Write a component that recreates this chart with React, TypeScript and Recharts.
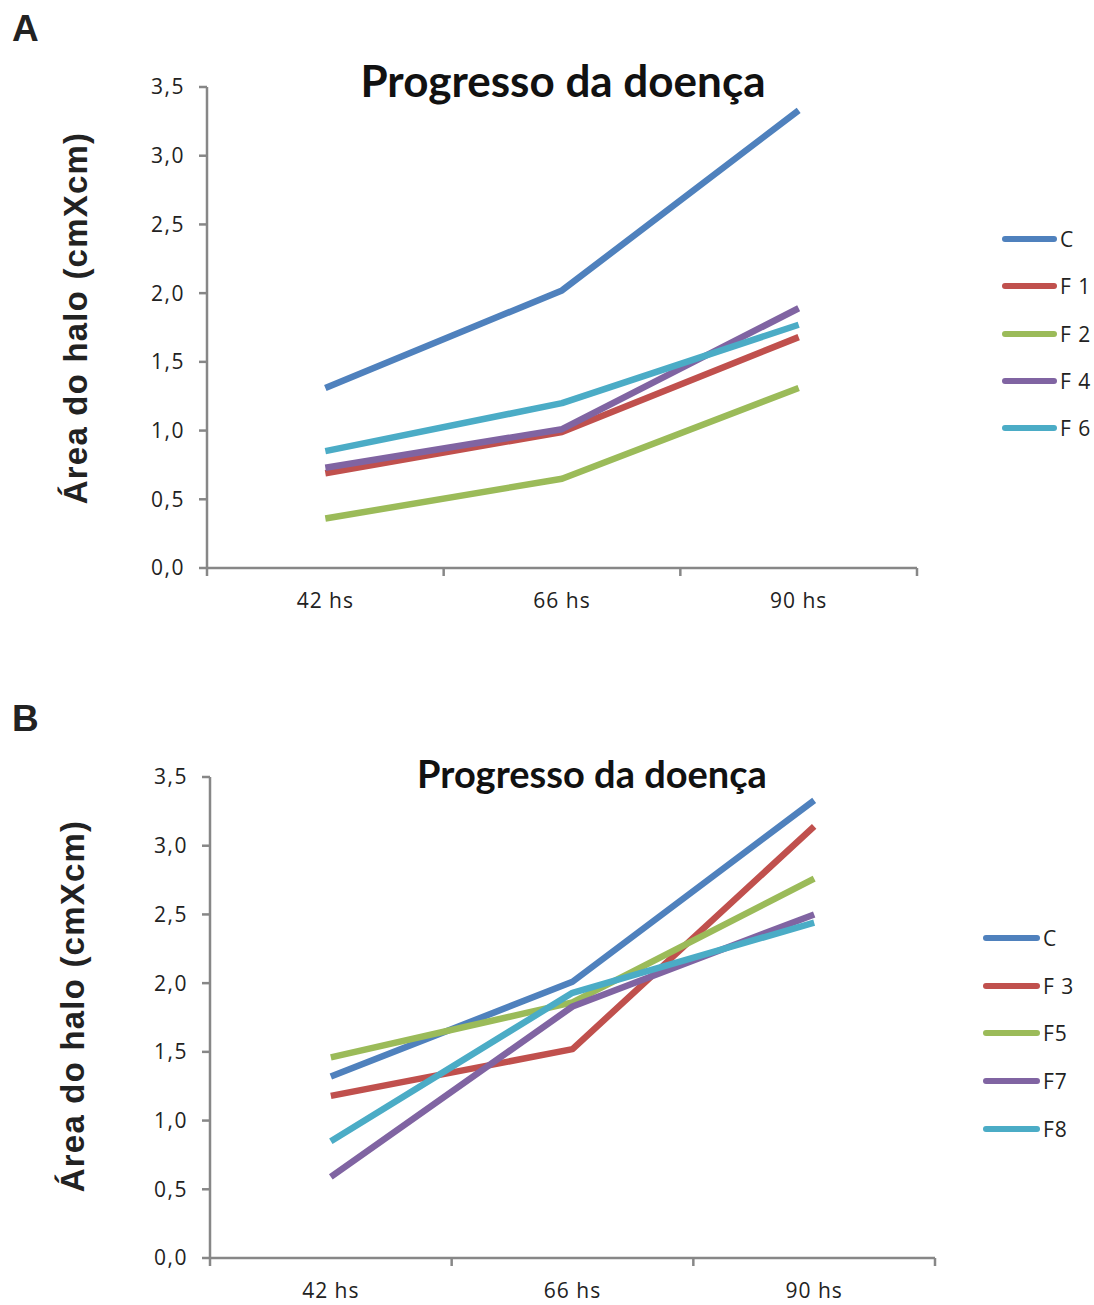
import { LineChart, Line, XAxis, YAxis } from 'recharts';

const categories = ['42 hs', '66 hs', '90 hs'];
const yTicks = [0, 0.5, 1, 1.5, 2, 2.5, 3, 3.5];

// panel A
const namesA = ['C', 'F 1', 'F 2', 'F 4', 'F 6'];
const cA = [1.31, 2.02, 3.33];
const f1 = [0.69, 0.99, 1.68];
const f2 = [0.36, 0.65, 1.31];
const f4 = [0.73, 1.01, 1.89];
const f6 = [0.85, 1.2, 1.77];

// panel B
const namesB = ['C', 'F 3', 'F5', 'F7', 'F8'];
const cB = [1.32, 2.01, 3.33];
const f3 = [1.18, 1.52, 3.14];
const f5 = [1.46, 1.86, 2.76];
const f7 = [0.59, 1.83, 2.5];
const f8 = [0.85, 1.93, 2.44];

const colors = ['#4F81BD', '#C0504D', '#9BBB59', '#8064A2', '#4BACC6'];

const AXIS = '#878787';
const TICK_SIZE = 8;
const TICK_MARGIN = 17;
const TICK_FONT = '"Open Sans", sans-serif';

function buildRows(values: number[][]) {
	return categories.map((cat, i) => {
		const row: Record<string, string | number> = { cat };
		values.forEach((v, s) => {
			row['s' + s] = v[i];
		});
		return row;
	});
}

const rowsA = buildRows([cA, f1, f2, f4, f6]);
const rowsB = buildRows([cB, f3, f5, f7, f8]);

interface PanelProps {
	top: number;
	height: number;
	margin: { top: number; right: number; bottom: number; left: number };
	rows: Record<string, string | number>[];
	names: string[];
	letter: string;
	title: { cx: number; y: number; size: number };
	ylabel: { cx: number; cy: number };
	legend: { x: number; y: number; gap: number; lineW: number };
}

function Panel({ top, height, margin, rows, names, letter, title, ylabel, legend }: PanelProps) {
	const width = 1094;
	const yAxisW = 60;
	const plotW = width - margin.left - yAxisW - margin.right;
	const bw = plotW / categories.length;

	// label at band centre, tick marks at band edges (Excel style)
	const XTick = (props: any) => {
		const { x, y, payload, index } = props;
		const axisY = y - TICK_SIZE - TICK_MARGIN;
		return (
			<g>
				<line x1={x - bw / 2} x2={x - bw / 2} y1={axisY} y2={axisY + TICK_SIZE} stroke={AXIS} strokeWidth={2.5} />
				{index === categories.length - 1 && (
					<line x1={x + bw / 2} x2={x + bw / 2} y1={axisY} y2={axisY + TICK_SIZE} stroke={AXIS} strokeWidth={2.5} />
				)}
				<text x={x} y={y} dy="0.71em" textAnchor="middle" fill="#222" fontSize={21} letterSpacing={1} fontFamily={TICK_FONT}>
					{payload.value}
				</text>
			</g>
		);
	};

	return (
		<div style={{ position: 'absolute', left: 0, top, width, height }}>
			<div style={{ position: 'absolute', left: 12, top: 10, fontFamily: '"Liberation Sans", Arial, sans-serif', fontWeight: 'bold', fontSize: 37, color: '#222', lineHeight: 1 }}>
				{letter}
			</div>
			<LineChart width={width} height={height} data={rows} margin={margin}>
				<XAxis
					dataKey="cat"
					scale="band"
					height={30}
					tickSize={TICK_SIZE}
					tickMargin={TICK_MARGIN}
					tickLine={false}
					axisLine={{ stroke: AXIS, strokeWidth: 2.5 }}
					tick={<XTick />}
				/>
				<YAxis
					width={yAxisW}
					domain={[0, 3.5]}
					ticks={yTicks}
					interval={0}
					tickSize={TICK_SIZE}
					tickMargin={14}
					axisLine={{ stroke: AXIS, strokeWidth: 2.5 }}
					tickLine={{ stroke: AXIS, strokeWidth: 2.5 }}
					tick={{ fill: '#222', fontSize: 21, fontFamily: TICK_FONT, letterSpacing: 1.5 }}
					tickFormatter={(v: number) => v.toFixed(1).replace('.', ',')}
				/>
				{names.map((n, i) => (
					<Line
						key={n}
						dataKey={'s' + i}
						name={n}
						stroke={colors[i]}
						strokeWidth={6.5}
						strokeLinejoin="round"
						dot={false}
						activeDot={false}
						isAnimationActive={false}
					/>
				))}
			</LineChart>
			<div
				style={{
					position: 'absolute',
					left: title.cx - 300,
					width: 600,
					top: title.y,
					textAlign: 'center',
					fontFamily: 'Lato, sans-serif',
					fontWeight: 'bold',
					fontSize: title.size,
					color: '#111',
					lineHeight: 1,
				}}
			>
				Progresso da doença
			</div>
			<div
				style={{
					position: 'absolute',
					left: ylabel.cx - 250,
					top: ylabel.cy - 20,
					width: 500,
					height: 40,
					lineHeight: '40px',
					textAlign: 'center',
					transform: 'rotate(-90deg)',
					fontFamily: '"Liberation Sans", Arial, sans-serif',
					fontWeight: 'bold',
					fontSize: 33,
					letterSpacing: 1.2,
					color: '#222',
				}}
			>
				Área do halo (cmXcm)
			</div>
			{names.map((n, i) => (
				<div key={n} style={{ position: 'absolute', left: legend.x, top: legend.y + i * legend.gap - 12, height: 24, display: 'flex', alignItems: 'center' }}>
					<div style={{ width: legend.lineW, height: 6, borderRadius: 3, background: colors[i] }} />
					<span style={{ marginLeft: 3, fontFamily: TICK_FONT, fontSize: 21, letterSpacing: 1, color: '#222' }}>{n}</span>
				</div>
			))}
		</div>
	);
}

export default function App() {
	return (
		<div style={{ position: 'absolute', left: 0, top: 0, width: 1094, height: 1305, background: '#fff', overflow: 'hidden' }}>
			<Panel
				top={0}
				height={640}
				margin={{ top: 87, right: 177, bottom: 42, left: 147 }}
				rows={rowsA}
				names={namesA}
				letter="A"
				title={{ cx: 563, y: 58, size: 44 }}
				ylabel={{ cx: 76, cy: 318 }}
				legend={{ x: 1002, y: 239, gap: 47.3, lineW: 55 }}
			/>
			<Panel
				top={690}
				height={615}
				margin={{ top: 87, right: 159, bottom: 17, left: 150 }}
				rows={rowsB}
				names={namesB}
				letter="B"
				title={{ cx: 592, y: 64, size: 38 }}
				ylabel={{ cx: 73, cy: 316 }}
				legend={{ x: 983, y: 248, gap: 47.7, lineW: 57 }}
			/>
		</div>
	);
}
